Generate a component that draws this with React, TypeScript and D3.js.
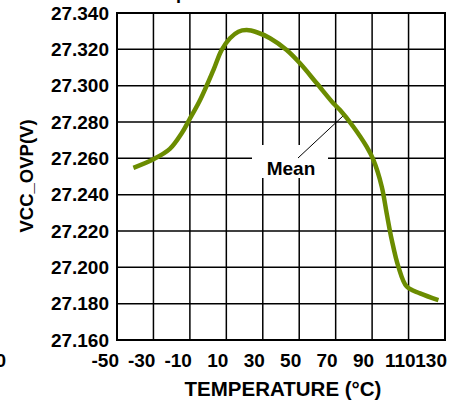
import * as d3 from 'd3';

const temps = [-41, -30, -21, -14.5, -10.4, -4.4, 2.9, 7.4, 12, 16.6, 21.2, 26.7, 34, 43.1, 50.4, 59.6, 68.7, 72.4, 79.7, 87, 90.7, 95.3, 98, 100.8, 104.4, 109, 116.3, 126.4];
const vccOvp = [27.2548, 27.2595, 27.2652, 27.2738, 27.2811, 27.2921, 27.3086, 27.3196, 27.3261, 27.3297, 27.3306, 27.3294, 27.3261, 27.3196, 27.3123, 27.3013, 27.2903, 27.2866, 27.2774, 27.2664, 27.2591, 27.2444, 27.2297, 27.215, 27.2004, 27.1894, 27.1857, 27.182];
const xTicks = [-50, -30, -10, 10, 30, 50, 70, 90, 110, 130];
const yTicks = [27.16, 27.18, 27.2, 27.22, 27.24, 27.26, 27.28, 27.3, 27.32, 27.34];

const W = 457, H = 402;
const font = '"Liberation Sans", Arial, sans-serif';

export default function App() {
  const x = d3.scaleLinear().domain([-50, 130]).range([117, 445]);
  const y = d3.scaleLinear().domain([27.16, 27.34]).range([340, 13]);
  const pts = temps.map((t, i) => [t, vccOvp[i]] as [number, number]);
  const line = d3.line<[number, number]>().x(d => x(d[0])).y(d => y(d[1])).curve(d3.curveCatmullRom.alpha(0.5));

  return (
    <svg width={W} height={H} style={{ position: 'absolute', left: 0, top: 0, background: '#fff' }} fontFamily={font}>
      {/* cut-off bits of neighbouring content */}
      <text x={176} y={-1} fontSize={18} fontWeight="bold">p</text>
      <text x={6} y={367} fontSize={19} fontWeight="bold" textAnchor="end">0</text>

      {/* grid */}
      {xTicks.map(t => (
        <line key={'gx' + t} x1={x(t)} x2={x(t)} y1={y(27.34)} y2={y(27.16)} stroke="#000" strokeWidth={1.5} />
      ))}
      {yTicks.map(t => (
        <line key={'gy' + t} x1={x(-50)} x2={x(130)} y1={y(t)} y2={y(t)} stroke="#000" strokeWidth={1.5} />
      ))}
      <rect x={x(-50)} y={y(27.34)} width={x(130) - x(-50)} height={y(27.16) - y(27.34)} fill="none" stroke="#000" strokeWidth={2} />

      {/* Mean label */}
      <rect x={252} y={145} width={76} height={33} fill="#fff" />
      <line x1={298} y1={158} x2={343} y2={116} stroke="#000" strokeWidth={1} />
      <text x={291} y={175} fontSize={19} fontWeight="bold" textAnchor="middle">Mean</text>

      <path d={line(pts) ?? ''} fill="none" stroke="#6b8c00" strokeWidth={4.5} strokeLinecap="butt" strokeLinejoin="round" />

      {/* tick labels */}
      {yTicks.map(t => (
        <text key={'ty' + t} x={109} y={y(t) + 6.5} fontSize={19} fontWeight="bold" textAnchor="end">{t.toFixed(3)}</text>
      ))}
      {xTicks.map(t => (
        <text key={'tx' + t} x={x(t) + (t === 110 ? 7 : 2)} y={367} fontSize={19} fontWeight="bold" textAnchor="end">{t}</text>
      ))}

      <text x={283} y={396} fontSize={20.5} fontWeight="bold" textAnchor="middle">TEMPERATURE (°C)</text>
      <text transform={`translate(33,176) rotate(-90)`} fontSize={18.5} fontWeight="bold" textAnchor="middle">VCC_OVP(V)</text>
    </svg>
  );
}
